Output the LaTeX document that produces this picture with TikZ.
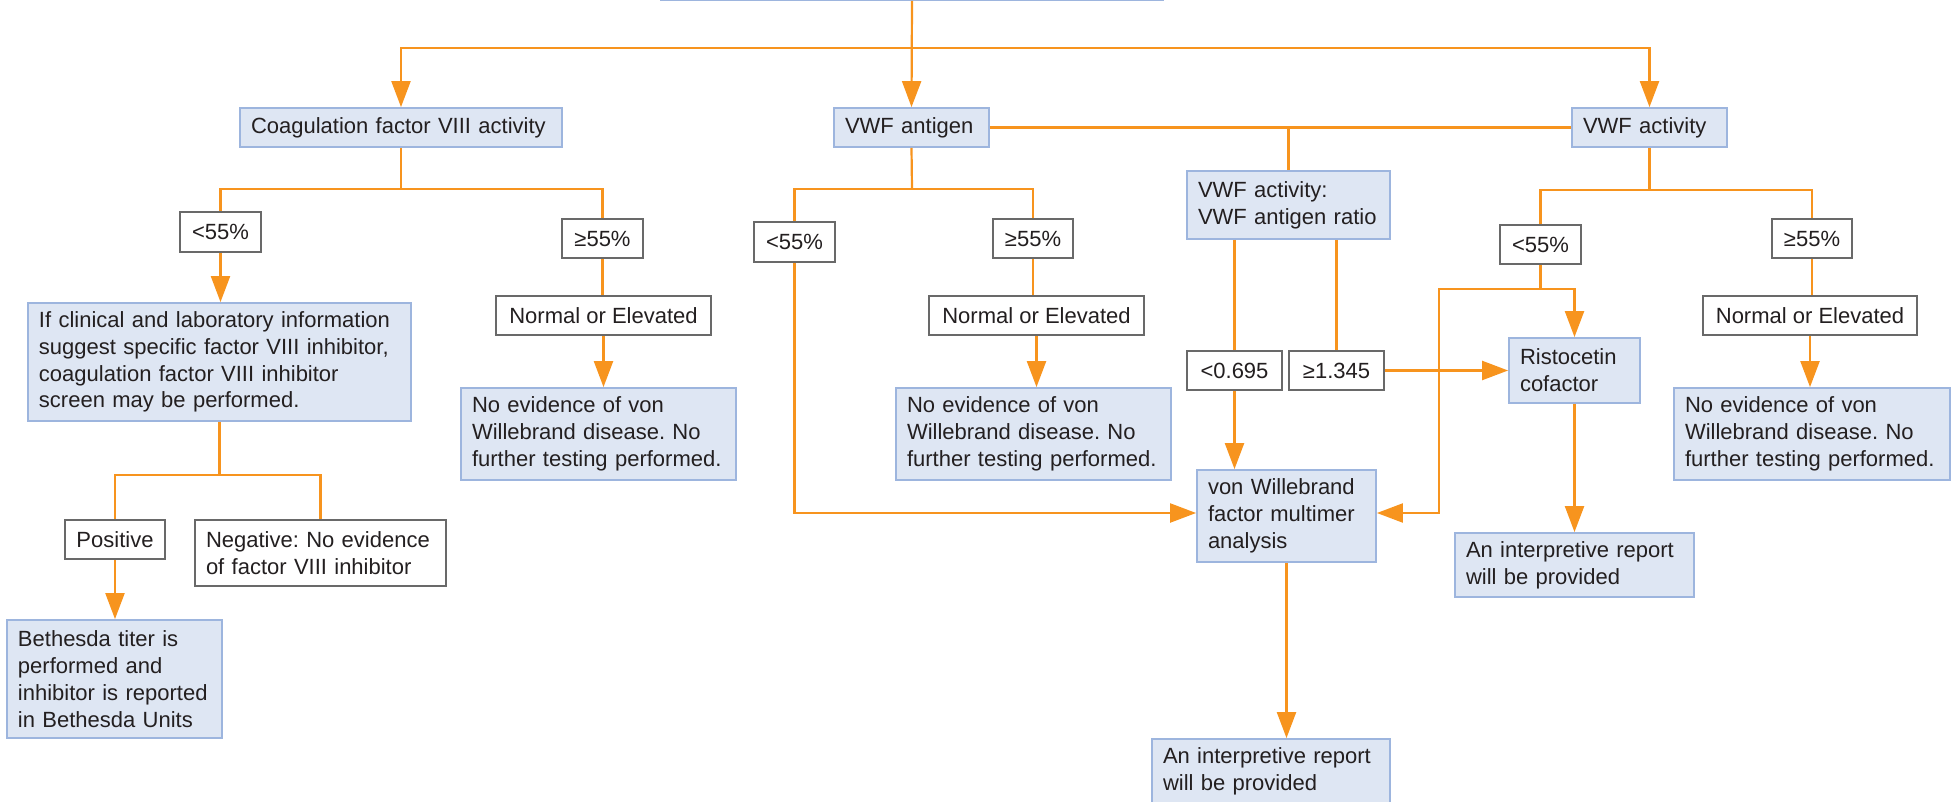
\documentclass[tikz,border=0pt]{standalone}
\usepackage{fontspec}
\setmainfont{Liberation Sans}
\usetikzlibrary{arrows.meta}
\definecolor{bfill}{RGB}{222,230,243}
\definecolor{bborder}{RGB}{157,181,222}
\definecolor{gborder}{RGB}{105,105,105}
\definecolor{org}{RGB}{247,148,30}
\definecolor{txt}{RGB}{35,31,32}
\newcommand{\fs}{\fontsize{11}{13.4}\selectfont\frenchspacing}
\tikzset{
  bb/.style={draw=bborder, fill=bfill, line width=0.9pt, inner xsep=5.5pt, inner ysep=3pt, align=left, font=\fs, text=txt},
  wb/.style={draw=gborder, fill=white, line width=1.1pt, inner sep=2pt, align=center, font=\fs, text=txt},
  wbl/.style={wb, inner xsep=5.5pt, align=left},
  ln/.style={draw=org, line width=1.1pt},
  ar/.style={ln, -{Triangle[length=13pt,width=9.5pt]}},
}
\begin{document}
\begin{tikzpicture}[x=0.5pt,y=-0.5pt]
\useasboundingbox (0,0) rectangle (1955,802);
% top box (cut off)
\node[bb, minimum width=251pt, minimum height=30pt, anchor=south] (top) at (912,1) {};
% first row
\node[bb, minimum width=161pt, minimum height=19.5pt, text width=150pt] (coag) at (401,127.5) {Coagulation factor VIII activity};
\node[bb, minimum width=77.5pt, minimum height=19.5pt, text width=66.5pt] (vwfag) at (911.5,127.5) {VWF antigen};
\node[bb, minimum width=77.5pt, minimum height=19.5pt, text width=66.5pt] (vwfact) at (1649.5,127.5) {VWF activity};
% left branch
\node[wb, minimum width=40.5pt, minimum height=20pt] (c55l) at (220.5,232) {<55\%};
\node[wb, minimum width=40.5pt, minimum height=19.5pt] (g55l) at (602.5,238.5) {≥55\%};
\node[bb, minimum width=191.5pt, minimum height=59pt, text width=180.5pt] (clin) at (219.5,362) {If clinical and laboratory information\\suggest specific factor VIII inhibitor,\\coagulation factor VIII inhibitor\\screen may be performed.};
\node[wb, minimum width=107.5pt, minimum height=19.5pt] (noel) at (603.5,315.5) {Normal or Elevated};
\node[bb, minimum width=137.5pt, minimum height=46pt, text width=126.5pt] (nevl) at (598.5,434) {No evidence of von\\Willebrand disease. No\\further testing performed.};
\node[wb, minimum width=50pt, minimum height=19.5pt] (pos) at (115,539.5) {Positive};
\node[wbl, minimum width=125.5pt, minimum height=33pt, text width=114.5pt] (neg) at (320.5,553) {Negative: No evidence\\of factor VIII inhibitor};
\node[bb, minimum width=107.5pt, minimum height=59pt, text width=96.5pt] (beth) at (114.5,679) {Bethesda titer is\\performed and\\inhibitor is reported\\in Bethesda Units};
% middle branch
\node[wb, minimum width=40.5pt, minimum height=20pt] (c55m) at (794.5,242) {<55\%};
\node[wb, minimum width=40pt, minimum height=19.5pt] (g55m) at (1033,238.5) {≥55\%};
\node[wb, minimum width=107.5pt, minimum height=19.5pt] (noem) at (1036.5,315.5) {Normal or Elevated};
\node[bb, minimum width=137.5pt, minimum height=46pt, text width=126.5pt] (nevm) at (1033.5,434) {No evidence of von\\Willebrand disease. No\\further testing performed.};
\node[bb, minimum width=101.5pt, minimum height=34pt, text width=90.5pt] (ratio) at (1288.5,205) {VWF activity:\\VWF antigen ratio};
\node[wb, minimum width=47.5pt, minimum height=19.5pt] (lt) at (1234.5,370.5) {<0.695};
\node[wb, minimum width=47.5pt, minimum height=19.5pt] (ge) at (1336.5,370.5) {≥1.345};
\node[bb, minimum width=89.5pt, minimum height=46pt, text width=78.5pt] (multi) at (1286.5,516) {von Willebrand\\factor multimer\\analysis};
\node[bb, minimum width=119pt, minimum height=32pt, text width=108pt] (repb) at (1271,771) {An interpretive report\\will be provided};
% right branch
\node[wb, minimum width=40.5pt, minimum height=19.5pt] (c55r) at (1540.5,244.5) {<55\%};
\node[wb, minimum width=40pt, minimum height=19.5pt] (g55r) at (1812,238.5) {≥55\%};
\node[wb, minimum width=107pt, minimum height=19.5pt] (noer) at (1810,315.5) {Normal or Elevated};
\node[bb, minimum width=138pt, minimum height=46pt, text width=127pt] (nevr) at (1812,434) {No evidence of von\\Willebrand disease. No\\further testing performed.};
\node[bb, minimum width=65.5pt, minimum height=32.5pt, text width=54.5pt] (risto) at (1574.5,370.5) {Ristocetin\\cofactor};
\node[bb, minimum width=119.5pt, minimum height=32pt, text width=108.5pt] (repr) at (1574.5,565) {An interpretive report\\will be provided};
% junctions
\coordinate (j1) at (912,48);
\coordinate (b1) at (401,189);
\coordinate (b2) at (912,189);
\coordinate (b3) at (1649.5,190);
\coordinate (b4) at (219.5,475);
\coordinate (j5) at (1540.5,289);
\coordinate (k5) at (1439,289);
% connectors
\draw[ar] (top.south) -- (vwfag.north);
\draw[ar] (j1) -| (coag.north);
\draw[ar] (j1) -| (vwfact.north);
\draw[ln] (vwfag.east) -- (vwfact.west);
\draw[ln] (ratio.north) -- (ratio.north |- vwfag.east);
% left
\draw[ln] (coag.south) -- (b1);
\draw[ln] (b1) -| (c55l.north);
\draw[ln] (b1) -| (g55l.north);
\draw[ar] (c55l.south) -- (c55l.south |- clin.north);
\draw[ln] (g55l.south) -- (g55l.south |- noel.north);
\draw[ar] (noel.south) -- (noel.south |- nevl.north);
\draw[ln] (clin.south) -- (b4);
\draw[ln] (b4) -| (pos.north);
\draw[ln] (b4) -| (neg.north);
\draw[ar] (pos.south) -- (pos.south |- beth.north);
% middle
\draw[ln] (vwfag.south) -- (b2);
\draw[ln] (b2) -| (c55m.north);
\draw[ln] (b2) -| (g55m.north);
\draw[ln] (g55m.south) -- (g55m.south |- noem.north);
\draw[ar] (noem.south) -- (noem.south |- nevm.north);
\draw[ar] (c55m.south) |- ([yshift=1.5pt]multi.west);
\draw[ln] (lt.north |- ratio.south) -- (lt.north);
\draw[ln] (ge.north |- ratio.south) -- (ge.north);
\draw[ar] (lt.south) -- (lt.south |- multi.north);
\draw[ar] (ge.east) -- (risto.west);
\draw[ar] (multi.south) -- (multi.south |- repb.north);
% right
\draw[ln] (vwfact.south) -- (b3);
\draw[ln] (b3) -| (c55r.north);
\draw[ln] (b3) -| (g55r.north);
\draw[ln] (c55r.south) -- (j5);
\draw[ar] (j5) -| (risto.north);
\draw[ar] (j5) -- (k5) |- ([yshift=1.5pt]multi.east);
\draw[ln] (g55r.south) -- (g55r.south |- noer.north);
\draw[ar] (noer.south) -- (noer.south |- nevr.north);
\draw[ar] (risto.south) -- (risto.south |- repr.north);
\end{tikzpicture}
\end{document}
